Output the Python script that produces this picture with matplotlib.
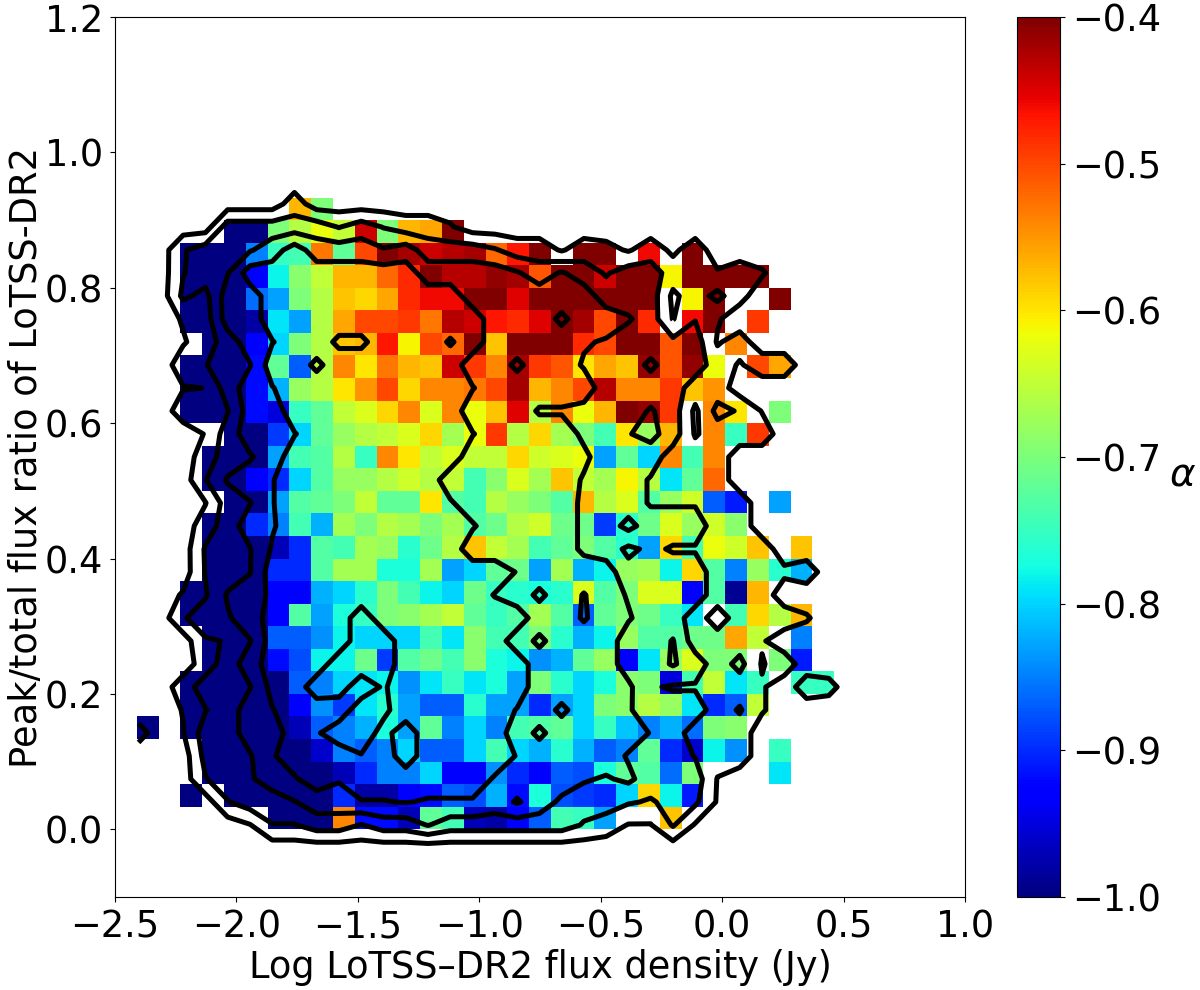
import numpy as np
import matplotlib
matplotlib.use('Agg')
import matplotlib.pyplot as plt

X = np.nan

# mean spectral index per cell x100, rows top to bottom, columns left to right
alpha_rows = [
    [X,X,X,X,X,X,X,-57,-70,X,X,X,X,X,X,X,X,X,X,X,X,X,X,X,X,X,X,X,X,X,X,X],
    [X,X,X,X,-100,-100,-70,-66,-62,-65,-44,-70,-57,-56,-40,X,X,X,X,X,X,X,X,X,X,X,X,X,X,X,X,X],
    [X,X,-100,-100,-100,-85,-75,-74,-53,-72,-50,-40,-42,-44,-43,-42,-52,-47,-40,X,-40,-40,X,-46,X,-40,X,X,X,X,X,X],
    [X,X,-100,-100,-100,-93,-78,-69,-65,-57,-57,-52,-48,-40,-43,-43,-41,-42,-51,-40,-40,-44,-40,-40,-61,-40,-40,-40,-40,X,X,X],
    [X,X,-100,-100,-100,-86,-83,-70,-66,-58,-59,-56,-48,-46,-46,-40,-40,-45,-40,-40,-40,-40,-40,-40,X,-61,-40,X,X,-40,X,X],
    [X,X,-100,-100,-100,-98,-79,-83,-66,-56,-50,-50,-49,-53,-43,-44,-47,-48,-45,-40,-42,-50,-40,-48,X,-46,-40,X,-49,X,X,X],
    [X,X,X,-100,-100,-93,-80,-70,-66,-58,-57,-47,-61,-50,-52,-40,-58,-40,-40,-40,-48,-50,-40,-40,-51,-40,X,-54,X,X,X,X],
    [X,X,-100,-100,-100,-92,-72,-87,-66,-54,-60,-53,-57,-58,-44,-49,-54,-42,-49,-51,-60,-56,-58,-41,-51,-41,-62,X,-50,-56,X,X],
    [X,X,-100,-100,-100,-92,-82,-68,-66,-60,-55,-50,-59,-54,-54,-53,-50,-42,-57,-54,-50,-43,-54,-54,-49,-58,-55,X,X,X,X,X],
    [X,X,-100,-100,-100,-92,-95,-75,-72,-65,-63,-59,-54,-63,-54,-62,-58,-45,-66,-54,-62,-57,-40,-41,-49,X,-54,-60,X,-70,X,X],
    [X,X,X,X,-100,-100,-89,-80,-72,-68,-66,-65,-63,-59,-67,-62,-49,-66,-59,-67,-70,-74,-60,-68,-57,X,-54,-75,-49,X,X,X],
    [X,X,X,-100,-100,-100,-83,-74,-73,-66,-75,-54,-60,-65,-63,-65,-65,-59,-64,-63,-62,-83,-72,-80,-54,-74,-54,X,X,X,X,X],
    [X,X,X,-100,-100,-93,-90,-80,-73,-68,-68,-66,-64,-66,-65,-74,-69,-63,-67,-58,-65,-67,-61,-66,-79,-72,-52,X,X,X,X,X],
    [X,X,X,X,-100,-100,-83,-73,-72,-70,-65,-72,-72,-60,-73,-74,-66,-68,-70,-73,-57,-66,-63,-73,-68,-64,-87,-91,X,-83,X,X],
    [X,X,X,-100,-100,-90,-85,-74,-82,-67,-70,-66,-67,-70,-67,-73,-71,-66,-64,-71,-71,-89,-76,-71,-63,-68,-64,-69,X,X,X,X],
    [X,X,X,-100,-100,-100,-97,-90,-73,-74,-67,-68,-76,-71,-66,-58,-65,-67,-74,-72,-70,-73,-76,-83,-59,-74,-62,-64,-58,X,-58,X],
    [X,X,X,-100,-100,-100,-90,-90,-73,-67,-67,-77,-77,-67,-83,-80,-72,-71,-83,-67,-82,-78,-68,-67,-78,-59,-73,-85,-68,-76,-82,X],
    [X,X,-100,-100,-100,-100,-93,-93,-82,-80,-76,-70,-74,-78,-80,-71,-75,-76,-77,-76,-63,-73,-70,-63,-63,-93,-73,-99,-57,X,X,X],
    [X,X,-100,-100,-100,-100,-93,-73,-83,-77,-75,-70,-69,-67,-65,-72,-75,-73,-67,-73,-87,-72,-70,-71,-75,-79,X,-74,-59,-66,-57,X],
    [X,X,X,-100,-100,-100,-87,-87,-84,-78,-80,-80,-80,-74,-79,-69,-74,-74,-70,-76,-82,-78,-68,-73,-73,-71,-71,-56,-65,X,-85,X],
    [X,X,X,-100,-100,-100,-92,-88,-78,-78,-71,-89,-73,-71,-74,-69,-77,-78,-84,-82,-72,-68,-93,-79,-68,-63,-70,-70,X,-70,-91,X],
    [X,X,-100,-100,-100,-100,-100,-87,-85,-80,-79,-78,-84,-79,-75,-79,-77,-83,-70,-76,-80,-77,-69,-70,-95,-74,-65,-79,-75,X,-75,-75],
    [X,X,-100,-100,-100,-100,-100,-93,-84,-89,-79,-76,-83,-87,-87,-76,-83,-83,-90,-83,-80,-70,-69,-66,-68,-79,-90,-87,-65,X,X,X],
    [-100,X,-100,-100,-100,-100,-100,-97,-87,-85,-82,-77,-83,-72,-85,-80,-85,-74,-73,-72,-80,-75,-81,-85,-82,-86,-70,-69,X,X,X,X],
    [X,X,X,-100,-100,-100,-100,-100,-96,-85,-87,-85,-80,-87,-87,-80,-74,-80,-82,-76,-82,-87,-85,-72,-90,-96,-78,-84,X,-75,X,X],
    [X,X,X,-100,-100,-100,-100,-100,-100,-97,-90,-85,-85,-80,-93,-93,-84,-90,-93,-87,-88,-77,-72,-73,-86,-70,X,X,X,-79,X,X],
    [X,X,-100,X,-100,-100,-100,-100,-100,-90,-98,-98,-93,-92,-87,-88,-82,-92,-77,-88,-89,-90,-80,-59,-78,-91,X,X,X,X,X,X],
    [X,X,X,X,X,X,-100,-100,-100,-54,-92,-92,-97,-72,-74,-97,-98,-93,-87,-74,-75,-83,X,X,-58,X,X,X,X,X,X,X],
]

# source density on its own grid, rows top to bottom
density_rows = [
    [0]*33,
    [0,0,0,0,0,0,0,1]+[0]*25,
    [0,0,0,0,2,2,2,2,2,1.45,2,1.45,1,1,.6]+[0]*18,
    [0,0,1.4,2,2,2.4,3,4,3,3,3,2.6,3,2,2,2,1.6,1,1,.4,1,.8,.4,1,.3,1,0,0,0,0,0,0,0],
    [0,0,1.45,2,2.45,4,4,4,4,4,4,4,4,3,3,3,3,2.6,2,2.6,2,1.4,2,2,1,1,.6,1,.6,0,0,0,0],
    [0,0,1.7,1.2,3,3,4,4,4,4,4,4,4,4,4,3,3,3,3,3,3,2,2,2,.3,1,1.8,.8,0,0,0,0,0],
    [0,0,.6,1,3,3,4,4,4,4,4,4,4,4,4,4,3,3,3,3.7,3,3,2.6,2,.45,1.45,.6,0,0,0,0,0,0],
    [0,0,.4,1,2,3,3.45,4,4,4.7,4.7,4,4,4,4.6,4,3,3,3,3,2.6,2.4,2,2,1.75,2,.4,.9,0,0,0,0,0],
    [0,0,1,1.45,2,2.45,4,4,4.7,4,4,4,4,4,4,3,3,3.7,3,3,2.4,2,2,2.7,2,2,1,.4,1,1,0,0,0],
    [0,0,.45,.51,2,3,3.45,4,4,4,4,4,4,4,4,3.55,3,3,3,3,3,2,2,2,2,1,1,0,0,0,0,0,0],
    [0,0,1,1,1.45,3,3,4,4,4,4,4,4,4,4,3,3,3,2.4,2.4,2.2,2,2,1.4,2,.3,1.8,1.4,.45,0,0,0,0],
    [0,0,0,.55,2,3,3,3.45,4,4,4,4,4,4,4,3.55,3,3,3,3,2.3,2,1.55,1.2,2,.4,1,1,1,0,0,0,0],
    [0,0,0,1,2,2.4,3,4,4,4,4,4,4,4,4,3,3,3,3,3,2.7,2,2,2,1,1,1,0,0,0,0,0,0],
    [0,0,0,1.45,2.6,3,3.45,4,4,4,4,4,4,4,3,3,3,3,3,3,2.4,2,2,1.4,1,1,1,0,0,0,0,0,0],
    [0,0,0,.45,2,2.45,3.45,4,4,4,4,4,4,4,3.6,3,3,3,3,3,2.3,2,2,1.4,1.4,1.4,1,1,0,0,0,0,0],
    [0,0,0,1,2,3,3.4,4,4,4,4,4,4,4,4,3.6,3,3,3,3,2.3,2,2.8,2,2,2,1,1,0,0,0,0,0],
    [0,0,0,1.6,2,2.45,3.6,4,4,4,4,4,4,4,4,3,3,3,3,3,2.3,2,1.3,1.7,1.4,1.4,1,1,1,0,0,0,0],
    [0,0,0,1.55,2,2.45,4,4,4,4,4,4,4,4,4,4,4,3.45,3,3,3,3,1.8,2,2,2,1,1,1,.7,1,0,0],
    [0,0,.6,1.4,2.6,3,3.7,4,4,4,4,4,4,4,4,4,3.45,3,3.7,3,3.55,3,2.4,2,2,2,1,1,1,0,0,0,0],
    [0,0,1.4,2,2.4,3,3.9,4,4,4,5,4,4,4,4,4,4,4,3,3,3.6,3,2.6,2,2,1,0,1,1,1,.6,0,0],
    [0,0,0,1.4,1.55,2.45,4,4,4,4,5,5,4,4,4,4,4,3,3.7,3,3,3,2,2,2.55,1,1,1,.6,0,0,0,0],
    [0,0,0,1,2,3,4,4,4,5,5,5,4,4,4,4,4,4,3,3,3,3,2,2,2.6,2,1,1.8,.42,1,0,0,0],
    [0,0,1,2,2,2.45,3.8,4,5,4.9,4,4.6,4,4,4,4,4,4,3,3,3,3,2.7,1.6,1.4,1.4,1,1,.6,0,1,.8,0],
    [0,0,.55,1.45,2,3,3.45,4,4,4,5,4.7,4,4,4,4,4,3.45,3,3.7,3,3,2.6,2,2,2,1,1.6,.6,0,0,0,0],
    [.85,0,.45,2,2,3,3,4,4.4,5,5,4.2,5,4,4,4,4,3,3.7,3,3,3,3,2.45,2,1,1,1,0,0,0,0,0],
    [0,0,0,1.8,2,2.4,3.4,4,4,4,4.45,4,5,4,4,4,4,3.45,3,3,3,3,2.4,2,2,1.45,1,1,0,0,0,0,0],
    [0,0,0,1.45,2,2.45,2.7,3.4,4,3.6,4,4,4,4,4,4,3.4,3,3,3,2.6,2.4,2.7,2,2,2,.45,0,0,0,0,0,0],
    [0,0,0,0,1.45,2,2.3,2.45,3,3,3.45,3.45,3.55,3.4,3.4,3.4,3,3.6,3,2.3,2,2,1.6,1.4,1.8,1.7,.4,0,0,0,0,0,0],
    [0,0,0,0,0,.45,1.45,1.45,2,2,1.45,2,2,2.55,2,2,2,2,2,2,1.4,1,.45,.45,1.6,.4,0,0,0,0,0,0,0],
    [0]*33,
]
density_levels = [0.5, 1.5, 2.5, 3.5, 4.5]

x_ticks = [-2.5, -2.0, -1.5, -1.0, -0.5, 0.0, 0.5, 1.0]
y_ticks = [0.0, 0.2, 0.4, 0.6, 0.8, 1.0, 1.2]
cbar_ticks = [-1.0, -0.9, -0.8, -0.7, -0.6, -0.5, -0.4]

plt.rcParams['font.size'] = 26.5
plt.rcParams['xtick.major.pad'] = 5
plt.rcParams['ytick.major.pad'] = 5

# the histogram uses 39 bins per axis, the first filled row/column are at 8 and 1
x_edges = np.linspace(-2.5, 1.0, 40)
y_edges = np.linspace(1.2, -0.1, 40)
alpha_grid = np.full((39, 39), np.nan)
alpha_grid[8:36, 1:33] = np.array(alpha_rows, dtype=float) / 100

density = np.array(density_rows, dtype=float)
dens_x = np.linspace(-2.403, 0.531, 33)
dens_y = np.linspace(0.9578, -0.0276, 30)

fig = plt.figure(figsize=(12, 9.9), dpi=100)
ax = fig.add_axes([115 / 1200, 93 / 990, 850 / 1200, 880 / 990])
mesh = ax.pcolormesh(x_edges, y_edges, alpha_grid, cmap='jet', vmin=-1.0, vmax=-0.4)
ax.contour(dens_x, dens_y[::-1], density[::-1], levels=density_levels, colors='k', linewidths=3.6)

ax.set_xlim(-2.5, 1.0)
ax.set_ylim(-0.1, 1.2)
ax.set_xticks(x_ticks)
ax.set_yticks(y_ticks)
ax.set_xlabel('Log LoTSS–DR2 flux density (Jy)', labelpad=2)
ax.set_ylabel('Peak/total flux ratio of LoTSS-DR2', labelpad=0)

cax = fig.add_axes([1017 / 1200, 93 / 990, 43 / 1200, 880 / 990])
cbar = fig.colorbar(mesh, cax=cax)
cbar.set_ticks(cbar_ticks)
cbar.set_label(r'$\alpha$', rotation=0, fontsize=28, ha='center', va='center')
cax.yaxis.set_label_coords(3.86, 0.48)

fig.savefig('out.png', dpi=100)
